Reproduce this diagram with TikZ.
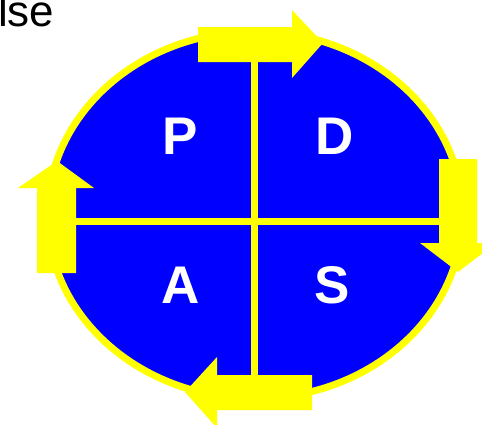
\documentclass[tikz,border=0pt]{standalone}
\usepackage{fontspec}
\setmainfont{Liberation Sans}
\definecolor{pblue}{RGB}{0,0,255}
\definecolor{pyellow}{RGB}{255,255,0}
\tikzset{
  cyclearrow/.style={fill=pyellow, draw=none},
  divider/.style={draw=pyellow, line width=7pt},
  quadletter/.style={text=white, font=\fontsize{53}{53}\selectfont\bfseries, inner sep=0pt, anchor=center},
}
\begin{document}
\begin{tikzpicture}[x=1pt,y=-1pt]
\useasboundingbox (0,0) rectangle (482,424);
% disc
\filldraw[fill=pblue, draw=pyellow, line width=7pt] (255,215) ellipse [x radius=207.5, y radius=183.5];
% dividers
\begin{scope}
\clip (255,215) ellipse [x radius=210, y radius=186];
\draw[divider] (254.5,20) -- (254.5,410);
\draw[divider] (36,221.5) -- (474,221.5);
\end{scope}
% arrows
\fill[cyclearrow] (198,27) -- (292,27) -- (292,10) -- (323,43) -- (292,78) -- (292,62) -- (198,62) -- cycle;
\fill[cyclearrow] (439,159) -- (477,159) -- (477,243) -- (496,243) -- (458,272) -- (420,243) -- (439,243) -- cycle;
\fill[cyclearrow] (312,375) -- (312,410) -- (217,410) -- (217,428) -- (185,392) -- (217,357) -- (217,375) -- cycle;
\fill[cyclearrow] (37,273) -- (37,188) -- (18,188) -- (57,161) -- (94,188) -- (76,188) -- (76,273) -- cycle;
% letters
\node[quadletter] (p) at (180,136) {P};
\node[quadletter] (d) at (334.5,136) {D};
\node[quadletter] (a) at (181,285.5) {A};
\node[quadletter] (s) at (332.5,285.5) {S};
% clipped caption
\node[anchor=base west, inner sep=0pt, font=\fontsize{44}{44}\selectfont] (cap) at (-2,26) {lse};
\end{tikzpicture}
\end{document}
